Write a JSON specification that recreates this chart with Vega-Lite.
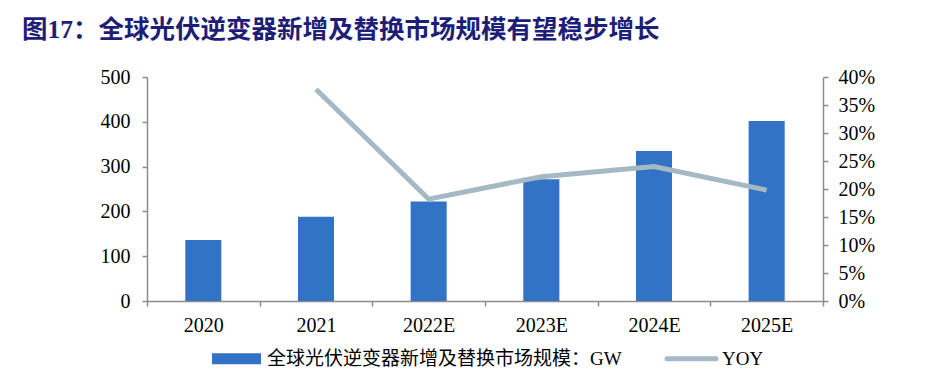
{
  "$schema": "https://vega.github.io/schema/vega-lite/v6.json",
  "width": 676,
  "height": 224,
  "autosize": {"type": "none"},
  "padding": {"left": 147, "top": 77, "right": 105, "bottom": 68},
  "background": "white",
  "title": {
    "text": "图17：全球光伏逆变器新增及替换市场规模有望稳步增长",
    "anchor": "start",
    "frame": "group",
    "dx": -125,
    "offset": 24,
    "font": "Liberation Serif, Noto Sans CJK SC",
    "fontSize": 25.5,
    "fontWeight": "bold",
    "color": "#1E1E78"
  },
  "data": {
    "values": [
      {"year": "2020", "gw": 136, "yoy": null},
      {"year": "2021", "gw": 188, "yoy": 0.378},
      {"year": "2022E", "gw": 222, "yoy": 0.182},
      {"year": "2023E", "gw": 272, "yoy": 0.222},
      {"year": "2024E", "gw": 335, "yoy": 0.240},
      {"year": "2025E", "gw": 402, "yoy": 0.198}
    ]
  },
  "encoding": {
    "x": {
      "field": "year",
      "type": "nominal",
      "sort": null,
      "scale": {"paddingInner": 0, "paddingOuter": 0},
      "axis": {
        "title": null,
        "labelAngle": 0,
        "tickBand": "extent",
        "labelPadding": 9,
        "tickSize": 5
      }
    }
  },
  "layer": [
    {
      "mark": {"type": "bar", "width": {"band": 0.32}},
      "encoding": {
        "y": {
          "field": "gw",
          "type": "quantitative",
          "scale": {"domain": [0, 500], "nice": false},
          "axis": {"title": null, "orient": "left", "values": [0, 100, 200, 300, 400, 500], "labelPadding": 12, "tickSize": 5}
        },
        "color": {
          "datum": "全球光伏逆变器新增及替换市场规模：GW",
          "type": "nominal",
          "scale": {
            "domain": ["全球光伏逆变器新增及替换市场规模：GW", "YOY"],
            "range": ["#3273C5", "#A4B9C3"]
          },
          "legend": {
            "title": null,
            "orient": "none",
            "direction": "horizontal",
            "legendX": 80,
            "legendY": 272,
            "columnPadding": 35,
            "labelOffset": 21,
            "symbolSize": 2401,
            "labelFont": "Liberation Serif, Noto Sans CJK SC",
            "labelFontSize": 19,
            "labelColor": "#000000",
            "labelLimit": 600,
            "encode": {
              "symbols": {
                "update": {
                  "shape": {"signal": "datum.label == 'YOY' ? 'M-1,0H1' : 'M-1,-0.224H1V0.224H-1Z'"},
                  "fill": {"signal": "datum.label == 'YOY' ? 'transparent' : '#3273C5'"},
                  "stroke": {"signal": "datum.label == 'YOY' ? '#A4B9C3' : 'transparent'"},
                  "strokeWidth": {"signal": "datum.label == 'YOY' ? 5 : 0"},
                  "strokeCap": {"value": "round"},
                  "opacity": {"value": 1},
                  "fillOpacity": {"value": 1},
                  "strokeOpacity": {"value": 1}
                }
              }
            }
          }
        }
      }
    },
    {
      "mark": {"type": "line", "strokeWidth": 5, "strokeCap": "butt"},
      "transform": [{"filter": "datum.yoy != null"}],
      "encoding": {
        "y": {
          "field": "yoy",
          "type": "quantitative",
          "scale": {"domain": [0, 0.4], "nice": false},
          "axis": {"title": null, "orient": "right", "format": ".0%", "values": [0, 0.05, 0.1, 0.15, 0.2, 0.25, 0.3, 0.35, 0.4], "labelPadding": 10, "tickSize": 5}
        },
        "color": {"datum": "YOY", "type": "nominal"}
      }
    }
  ],
  "resolve": {"scale": {"y": "independent"}},
  "config": {
    "view": {"stroke": null},
    "axis": {
      "grid": false,
      "domainColor": "#8C8C8C",
      "tickColor": "#8C8C8C",
      "domainWidth": 1.5,
      "tickWidth": 1.5,
      "labelFont": "Liberation Serif",
      "labelFontSize": 20,
      "labelColor": "#000000"
    }
  }
}
